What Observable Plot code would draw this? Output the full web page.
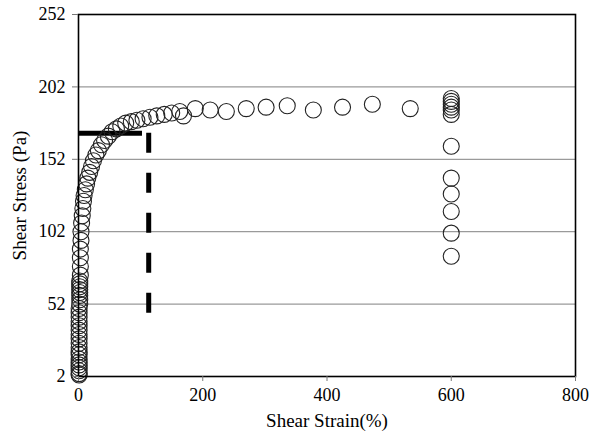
<!DOCTYPE html>
<html>
<head>
<meta charset="utf-8">
<script src="https://cdn.jsdelivr.net/npm/d3@7"></script>
<script src="https://cdn.jsdelivr.net/npm/@observablehq/plot@0.6"></script>
<style>
  html, body { margin: 0; padding: 0; background: #fff; }
  #chart { width: 591px; height: 434px; }
</style>
</head>
<body>
<div id="chart"></div>
<script>
// Shear strain (%) and shear stress (Pa)
const strain = [
  1, 1, 1, 1, 1, 1, 1, 1, 1, 1, 1, 1, 1, 1, 1, 1, 1, 1, 1,
  2, 2, 2, 2, 2, 2, 2, 2,
  3, 3, 3, 3, 4, 4, 5, 6, 7, 8, 9, 11, 13, 15, 18, 21, 24, 28, 32, 37, 42, 48, 54,
  61, 68, 76, 85, 94, 104, 115, 126, 138, 150, 163,
  169, 188, 212, 238, 270, 302, 336, 378, 425, 473, 534,
  600, 600, 600, 600, 600, 600, 600, 600, 600, 600, 600, 600
];
const stress = [
  3, 4, 6, 8, 10, 12, 14, 17, 19, 22, 25, 28, 31, 34, 37, 40, 43, 46, 49,
  52, 55, 58, 60, 62, 64, 66, 68,
  72, 78, 84, 90, 96, 102, 108, 113, 118, 123, 127, 131, 135, 139, 143, 147, 151, 155, 158, 162, 165, 168, 171,
  173, 175, 177, 178, 179, 180, 181, 182, 183, 184, 185,
  182, 187, 186, 185, 187, 188, 189, 186, 188, 190, 187,
  194, 192, 190, 188, 186, 183, 161, 139, 128, 116, 101, 85
];
const xTicks = [0, 200, 400, 600, 800];
const yTicks = [2, 52, 102, 152, 202, 252];
const gridValues = [52, 102, 152, 202];
// yield construction lines
const yieldStress = 170;
const yieldStrainEnd = 103;
const yieldStrain = 113;
const dashBottom = 45;

const points = strain.map((s, i) => ({strain: s, stress: stress[i]}));

const chart = Plot.plot({
  width: 591,
  height: 434,
  marginLeft: 78,
  marginRight: 16,
  marginTop: 14,
  marginBottom: 58,
  style: {fontFamily: "'Liberation Serif', 'Times New Roman', serif", fontSize: "18px", color: "#000", background: "#fff"},
  x: {domain: [0, 800]},
  y: {domain: [2, 252]},
  marks: [
    Plot.ruleY(gridValues, {stroke: "#9a9a9a", strokeWidth: 1.3}),
    Plot.ruleY([yieldStress], {x1: 0, x2: yieldStrainEnd, stroke: "#000", strokeWidth: 5}),
    Plot.ruleX([yieldStrain], {y1: yieldStress, y2: dashBottom, stroke: "#000", strokeWidth: 5, strokeDasharray: "20,20"}),
    Plot.dot(points, {x: "strain", y: "stress", r: 8, stroke: "#222", strokeWidth: 1.1, fill: "none"}),
    Plot.frame({stroke: "#000", strokeWidth: 1.6}),
    Plot.axisX({ticks: xTicks, tickSize: 5, tickPadding: 7, stroke: "#777", fontSize: 18, label: null}),
    Plot.axisX({ticks: [], label: "Shear Strain(%)", labelAnchor: "center", labelArrow: "none", labelOffset: 50, fontSize: 19}),
    Plot.axisY({ticks: yTicks, tickSize: 6, tickPadding: 7, stroke: "#777", fontSize: 18, label: null}),
    Plot.axisY({ticks: [], label: "Shear Stress (Pa)", labelAnchor: "center", labelArrow: "none", labelOffset: 66, fontSize: 19})
  ]
});
document.getElementById("chart").appendChild(chart);
</script>
</body>
</html>
